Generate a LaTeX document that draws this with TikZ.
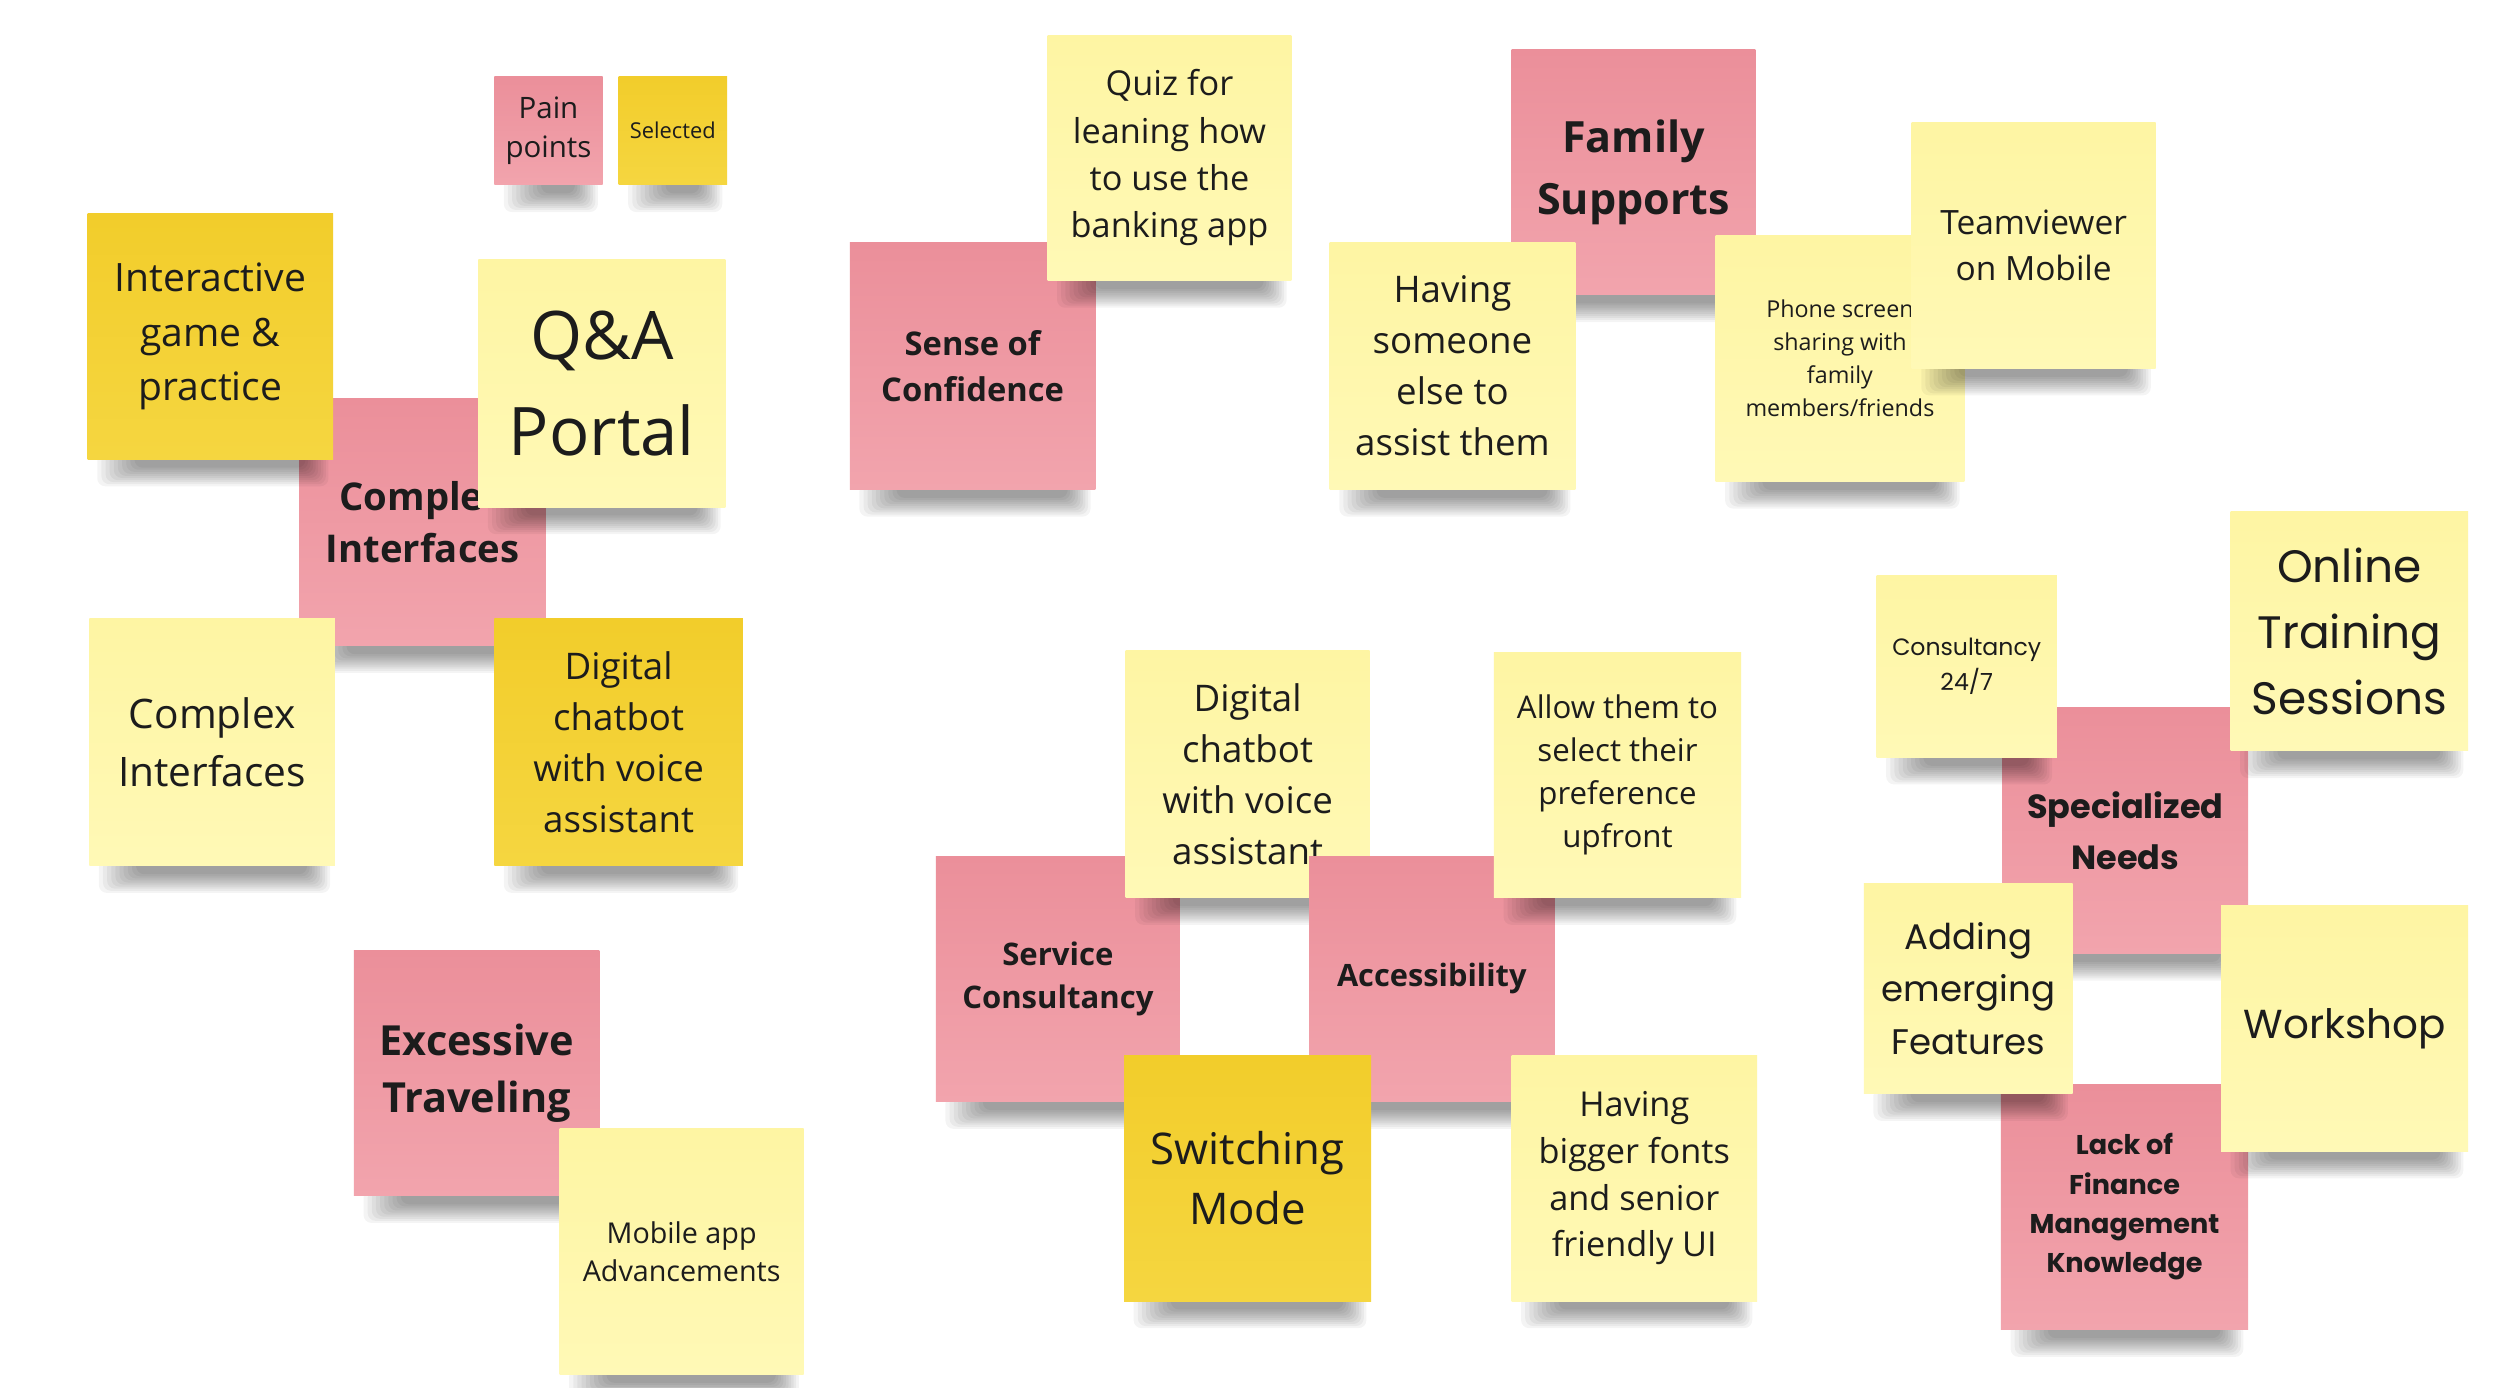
\documentclass[tikz,border=0pt]{standalone}
\usepackage{fontspec}
\setmainfont{Open Sans}
\newfontfamily\geo{Poppins}
\definecolor{pinkT}{HTML}{EB8F9A}
\definecolor{pinkB}{HTML}{F2A4AD}
\definecolor{lyT}{HTML}{FEF5A3}
\definecolor{lyB}{HTML}{FFF9B6}
\definecolor{dyT}{HTML}{F2CD2B}
\definecolor{dyB}{HTML}{F5D640}
\definecolor{ink}{HTML}{1C1C1C}
\tikzset{
  notebase/.style={rectangle, inner sep=0pt, outer sep=0pt, align=center, text=ink},
  pinknote/.style={notebase, top color=pinkT, bottom color=pinkB},
  lightnote/.style={notebase, top color=lyT, bottom color=lyB},
  darknote/.style={notebase, top color=dyT, bottom color=dyB},
  shadowlayer/.style={fill=black, opacity=0.045, rounded corners=5pt},
}
\newcommand\stick[9]{%
  \foreach \k in {0,...,9}{%
    \fill[shadowlayer] ({#2+6+2.6*\k},{#5-4}) rectangle ({#4-3-1.6*\k},{#5+17-1.3*\k});
  }%
  \node[#6, minimum width={(#4-#2)*1pt}, minimum height={(#5-#3)*1pt}, font={\fontsize{#7}{#8}\selectfont}] (#1) at ({(#2+#4)/2},{(#3+#5)/2}) {#9};
}
\begin{document}
\begin{tikzpicture}[x=1pt,y=-1pt]
\fill[white] (0,0) rectangle (1568,870);
\useasboundingbox (0,0) rectangle (1568,870);
% left cluster
\stick{cplxpink}{188}{250}{342}{405}{pinknote}{24}{33}{\bfseries Comple\phantom{x}\\\bfseries Interfaces}
\stick{interact}{55}{134}{209}{288}{darknote}{24.5}{34}{Interactive\\game \&\\practice}
\stick{qa}{300}{163}{455}{318}{lightnote}{42}{60}{Q\&A\\Portal}
\stick{cplx}{56}{388}{210}{543}{lightnote}{25.5}{36}{Complex\\Interfaces}
\stick{chatA}{310}{388}{466}{543}{darknote}{23}{32}{Digital\\chatbot\\with voice\\assistant}
\stick{pain}{310}{48}{378}{116}{pinknote}{18.5}{25}{Pain\\points}
\stick{sel}{388}{48}{456}{116}{darknote}{13.7}{18}{Selected}
\stick{travel}{222}{596}{376}{750}{pinknote}{26}{36}{\bfseries Excessive\\\bfseries Traveling}
\stick{mobile}{351}{708}{504}{862}{lightnote}{18}{24}{Mobile app\\Advancements}
% top middle
\stick{sense}{533}{152}{687}{307}{pinknote}{20.5}{29}{\bfseries Sense of\\\bfseries Confidence}
\stick{quiz}{657}{22}{810}{176}{lightnote}{21.5}{29.7}{Quiz for\\leaning how\\to use the\\banking app}
\stick{family}{948}{31}{1101}{185}{pinknote}{27}{39}{\bfseries Family\\\bfseries Supports}
\stick{someone}{834}{152}{988}{307}{lightnote}{23}{32}{Having\\someone\\else to\\assist them}
\stick{phone}{1076}{148}{1232}{302}{lightnote}{14.6}{20.7}{Phone screen\\sharing with\\family\\members/friends}
\stick{team}{1199}{77}{1352}{231}{lightnote}{21}{29}{Teamviewer\\on Mobile}
% middle bottom
\stick{service}{587}{537}{740}{691}{pinknote}{19.5}{27}{\bfseries Service\\\bfseries Consultancy}
\stick{chatB}{706}{408}{859}{563}{lightnote}{23}{32}{Digital\\chatbot\\with voice\\assistant}
\stick{access}{821}{537}{975}{691}{pinknote}{19.3}{27}{\bfseries Accessibility}
\stick{allow}{937}{409}{1092}{563}{lightnote}{19.6}{27}{Allow them to\\select their\\preference\\upfront}
\stick{switch}{705}{662}{860}{816}{darknote}{27.4}{38}{Switching\\Mode}
\stick{bigger}{948}{662}{1102}{816}{lightnote}{21.5}{29.3}{Having\\bigger fonts\\and senior\\friendly UI}
% right cluster
\stick{special}{1256}{444}{1410}{598}{pinknote}{21}{32}{\geo\bfseries Specialized\\\geo\bfseries Needs}
\stick{lack}{1255}{680}{1410}{834}{pinknote}{17}{24.7}{\geo\bfseries Lack of\\\geo\bfseries Finance\\\geo\bfseries Management\\\geo\bfseries Knowledge}
\stick{consult}{1177}{361}{1290}{475}{lightnote}{14.8}{22}{\geo Consultancy\\\geo 24/7}
\stick{online}{1399}{321}{1548}{471}{lightnote}{28.5}{41.5}{\geo Online\\\geo Training\\\geo Sessions}
\stick{adding}{1169}{554}{1300}{686}{lightnote}{22.3}{33}{\geo Adding\\\geo emerging\\\geo Features}
\stick{workshop}{1393}{568}{1548}{722}{lightnote}{25.4}{36}{\geo Workshop}
\end{tikzpicture}
\end{document}
